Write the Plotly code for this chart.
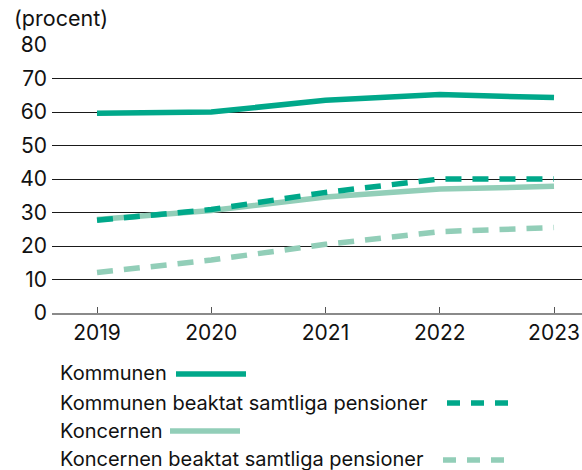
import plotly.graph_objects as go

# Data
years = [2019, 2020, 2021, 2022, 2023]
kommunen = [59.6, 60.0, 63.5, 65.2, 64.3]
kommunen_samtliga = [27.7, 30.9, 36.0, 40.0, 40.0]
koncernen = [27.9, 30.6, 34.6, 37.0, 37.8]
koncernen_samtliga = [12.1, 15.8, 20.5, 24.3, 25.5]
series_names = [
    "Kommunen",
    "Kommunen beaktat samtliga pensioner",
    "Koncernen",
    "Koncernen beaktat samtliga pensioner",
]
y_ticks = [0, 10, 20, 30, 40, 50, 60, 70, 80]

DARK = "#00A88A"
LIGHT = "#92CEB8"
FONT = "Inter"

W, H = 582, 470
L, R, T, B = 52, 0, 45, 157
PW, PH = W - L - R, H - T - B

def px(xp):
    return (xp - L) / PW

def py(yp):
    return (H - B - yp) / PH

styles = [
    dict(color=DARK, dash="solid"),
    dict(color=DARK, dash="16px,11px"),
    dict(color=LIGHT, dash="solid"),
    dict(color=LIGHT, dash="16px,11px"),
]

fig = go.Figure()
# Light series first so the dark ones sit on top
order = [2, 3, 0, 1]
all_vals = [kommunen, kommunen_samtliga, koncernen, koncernen_samtliga]
for i in order:
    st = styles[i]
    fig.add_trace(go.Scatter(
        x=years, y=all_vals[i], name=series_names[i], mode="lines",
        line=dict(color=st["color"], width=5.5, dash=st["dash"]),
        showlegend=False,
    ))

fig.update_layout(
    width=W, height=H,
    margin=dict(l=L, r=R, t=T, b=B),
    paper_bgcolor="white", plot_bgcolor="white",
    font=dict(family=FONT, color="#111", size=20),
    xaxis=dict(
        range=[2018.606, 2023.245],
        tickvals=years, ticktext=[str(y) for y in years],
        showgrid=False, zeroline=False,
        showline=True, linecolor="#8a8a8a", linewidth=1.5,
        ticks="inside", ticklen=6, tickcolor="#555", tickwidth=1,
        tickfont=dict(size=21, family=FONT, color="#111"),
    ),
    yaxis=dict(
        range=[0, 80], tickvals=y_ticks,
        showgrid=True, gridcolor="#1a1a1a", gridwidth=1,
        zeroline=True, zerolinecolor="#8a8a8a", zerolinewidth=1.5,
        ticks="", ticklabelstandoff=4,
        tickfont=dict(size=21, family=FONT, color="#111"),
    ),
)

annotations = [
    dict(text="(procent)", x=px(12), y=py(18), xanchor="left", yanchor="middle",
         font=dict(size=21.5)),
]

# Legend: label followed by its line sample
legend_rows = [
    (373, 176, 246, 374),
    (403, 447, 512, 403),
    (431, 170, 240, 431),
    (459, 443, 507, 460),
]
shapes = []
for name, st, (ty, x0, x1, ly) in zip(series_names, styles, legend_rows):
    annotations.append(dict(text=name, x=px(58), y=py(ty), xanchor="left",
                            yanchor="middle", font=dict(size=20)))
    shapes.append(dict(type="line", xref="paper", yref="paper",
                       x0=px(x0), x1=px(x1), y0=py(ly), y1=py(ly),
                       line=dict(color=st["color"], width=5.5,
                                 dash="solid" if st["dash"] == "solid" else "13px,11px")))

for a in annotations:
    a.update(xref="paper", yref="paper", showarrow=False)
fig.update_layout(annotations=annotations, shapes=shapes)

fig.write_html("out.html")
